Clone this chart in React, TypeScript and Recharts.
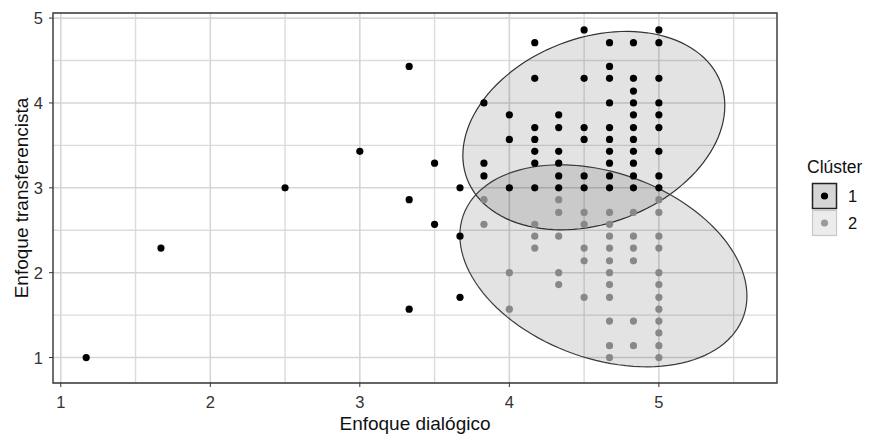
import React from "react";
import { CartesianGrid, ReferenceArea, Scatter, ScatterChart, XAxis, YAxis } from "recharts";

const FONT = '"Liberation Sans", Arial, Helvetica, sans-serif';

// Cluster 1 (black points): x = Enfoque dialógico, y = Enfoque transferencista
const clusterOne = [
  { x: 1.17, y: 1.0 }, { x: 1.67, y: 2.29 }, { x: 2.5, y: 3.0 }, { x: 3.0, y: 3.43 },
  { x: 3.33, y: 4.43 }, { x: 3.33, y: 2.86 }, { x: 3.33, y: 1.57 },
  { x: 3.5, y: 3.29 }, { x: 3.5, y: 2.57 },
  { x: 3.67, y: 3.0 }, { x: 3.67, y: 2.43 }, { x: 3.67, y: 1.71 },
  { x: 3.83, y: 4.0 }, { x: 3.83, y: 3.29 }, { x: 3.83, y: 3.14 },
  { x: 4.0, y: 3.86 }, { x: 4.0, y: 3.57 }, { x: 4.0, y: 3.0 },
  { x: 4.17, y: 4.71 }, { x: 4.17, y: 4.29 }, { x: 4.17, y: 3.71 }, { x: 4.17, y: 3.57 },
  { x: 4.17, y: 3.43 }, { x: 4.17, y: 3.29 }, { x: 4.17, y: 3.0 },
  { x: 4.33, y: 3.86 }, { x: 4.33, y: 3.71 }, { x: 4.33, y: 3.43 }, { x: 4.33, y: 3.29 },
  { x: 4.33, y: 3.14 }, { x: 4.33, y: 3.0 },
  { x: 4.5, y: 4.86 }, { x: 4.5, y: 4.29 }, { x: 4.5, y: 3.71 }, { x: 4.5, y: 3.57 },
  { x: 4.5, y: 3.14 }, { x: 4.5, y: 3.0 },
  { x: 4.67, y: 4.71 }, { x: 4.67, y: 4.43 }, { x: 4.67, y: 4.29 }, { x: 4.67, y: 4.0 },
  { x: 4.67, y: 3.71 }, { x: 4.67, y: 3.57 }, { x: 4.67, y: 3.43 }, { x: 4.67, y: 3.29 },
  { x: 4.67, y: 3.14 }, { x: 4.67, y: 3.0 },
  { x: 4.83, y: 4.71 }, { x: 4.83, y: 4.29 }, { x: 4.83, y: 4.14 }, { x: 4.83, y: 4.0 },
  { x: 4.83, y: 3.86 }, { x: 4.83, y: 3.71 }, { x: 4.83, y: 3.57 }, { x: 4.83, y: 3.43 },
  { x: 4.83, y: 3.29 }, { x: 4.83, y: 3.14 }, { x: 4.83, y: 3.0 },
  { x: 5.0, y: 4.86 }, { x: 5.0, y: 4.71 }, { x: 5.0, y: 4.29 }, { x: 5.0, y: 4.0 },
  { x: 5.0, y: 3.86 }, { x: 5.0, y: 3.71 }, { x: 5.0, y: 3.43 }, { x: 5.0, y: 3.14 },
  { x: 5.0, y: 3.0 },
];

// Cluster 2 (grey points)
const clusterTwo = [
  { x: 3.83, y: 2.86 }, { x: 3.83, y: 2.57 },
  { x: 4.0, y: 2.0 }, { x: 4.0, y: 1.57 },
  { x: 4.17, y: 2.57 }, { x: 4.17, y: 2.43 }, { x: 4.17, y: 2.29 },
  { x: 4.33, y: 2.86 }, { x: 4.33, y: 2.71 }, { x: 4.33, y: 2.43 }, { x: 4.33, y: 2.0 },
  { x: 4.33, y: 1.86 },
  { x: 4.5, y: 2.71 }, { x: 4.5, y: 2.57 }, { x: 4.5, y: 2.29 }, { x: 4.5, y: 2.14 },
  { x: 4.5, y: 1.71 },
  { x: 4.67, y: 2.71 }, { x: 4.67, y: 2.57 }, { x: 4.67, y: 2.43 }, { x: 4.67, y: 2.29 },
  { x: 4.67, y: 2.14 }, { x: 4.67, y: 2.0 }, { x: 4.67, y: 1.86 }, { x: 4.67, y: 1.71 },
  { x: 4.67, y: 1.43 }, { x: 4.67, y: 1.14 }, { x: 4.67, y: 1.0 },
  { x: 4.83, y: 2.71 }, { x: 4.83, y: 2.43 }, { x: 4.83, y: 2.29 }, { x: 4.83, y: 2.14 },
  { x: 4.83, y: 1.43 }, { x: 4.83, y: 1.14 },
  { x: 5.0, y: 2.86 }, { x: 5.0, y: 2.71 }, { x: 5.0, y: 2.43 }, { x: 5.0, y: 2.29 },
  { x: 5.0, y: 2.0 }, { x: 5.0, y: 1.86 }, { x: 5.0, y: 1.71 }, { x: 5.0, y: 1.57 },
  { x: 5.0, y: 1.43 }, { x: 5.0, y: 1.29 }, { x: 5.0, y: 1.14 }, { x: 5.0, y: 1.0 },
];

const xTicks = [1, 2, 3, 4, 5];
const yTicks = [1, 2, 3, 4, 5];
const xMinor = [1.5, 2.5, 3.5, 4.5, 5.5];
const yMinor = [1.5, 2.5, 3.5, 4.5];
const xDomain: [number, number] = [0.948, 5.79];
const yDomain: [number, number] = [0.7, 5.06];

// stat_ellipse outlines (centre, half extents, correlation)
const ellipseOne = { cx: 4.565, cy: 3.674, rx: 0.876, ry: 1.169, corr: 0.25 };
const ellipseTwo = { cx: 4.629, cy: 2.081, rx: 0.96, ry: 1.19, corr: -0.3 };

function ellipsePoints(e: typeof ellipseOne) {
  const delta = Math.acos(e.corr);
  const pts: { x: number; y: number }[] = [];
  for (let i = 0; i <= 120; i++) {
    const t = (i / 120) * Math.PI * 2;
    pts.push({ x: e.cx + e.rx * Math.cos(t), y: e.cy + e.ry * Math.cos(t - delta) });
  }
  return pts;
}

// receives pixel points from Scatter's line renderer and draws a closed, shaded polygon
function EllipseShape(props: any) {
  const { points, shade, edge } = props;
  if (!points || !points.length) return null;
  const d = points.map((p: any, i: number) => `${i ? "L" : "M"}${p.x},${p.y}`).join(" ") + " Z";
  return <path d={d} fill={shade} fillOpacity={0.11} stroke={edge} strokeWidth={1.2} />;
}

const hidden = () => <g />;
const dot = (color: string) => (p: any) => <circle cx={p.cx} cy={p.cy} r={3.6} fill={color} />;

const xTick = ({ x, y, payload }: any) => (
  <text x={x} y={y + 18} textAnchor="middle" fontSize={16.5} fill="#333" fontFamily={FONT}>
    {payload.value}
  </text>
);

const yTick = ({ x, y, payload }: any) => (
  <text x={x} y={y + 6} textAnchor="end" fontSize={16.5} fill="#333" fontFamily={FONT}>
    {payload.value}
  </text>
);

function Legend() {
  return (
    <svg width={80} height={100} style={{ position: "absolute", left: 803, top: 148 }}>
      <text x={4} y={25} fontSize={17.5} fill="#111" fontFamily={FONT}>Clúster</text>
      <rect x={9.5} y={35.5} width={24} height={25} fill="#d6d6d6" stroke="#222" strokeWidth={1.5} />
      <circle cx={21.5} cy={48} r={3.6} fill="#000" />
      <text x={45} y={54} fontSize={16.5} fill="#111" fontFamily={FONT}>1</text>
      <rect x={9.5} y={62.5} width={24} height={25} fill="#ececec" stroke="#c8c8c8" strokeWidth={1.2} />
      <circle cx={21.5} cy={75} r={3.6} fill="#9a9a9a" />
      <text x={45} y={81} fontSize={16.5} fill="#111" fontFamily={FONT}>2</text>
    </svg>
  );
}

export default function App() {
  return (
    <div style={{ position: "relative", width: 886, height: 435, overflow: "hidden", fontFamily: FONT }}>
      <style>{"body { margin: 0; }"}</style>
      <ScatterChart width={886} height={435} margin={{ top: 13, right: 109, bottom: 0, left: 0 }}>
        <CartesianGrid horizontalValues={yMinor} verticalValues={xMinor} stroke="#dcdcdc" strokeWidth={1.4} />
        <CartesianGrid horizontalValues={yTicks} verticalValues={xTicks} stroke="#d6d6d6" strokeWidth={1.6} />
        <XAxis
          type="number"
          dataKey="x"
          domain={xDomain}
          ticks={xTicks}
          allowDataOverflow
          height={52}
          tickSize={4}
          tickMargin={3}
          axisLine={false}
          tickLine={{ stroke: "#333" }}
          tick={xTick}
          label={{
            content: ({ viewBox }: any) => (
              <text x={viewBox.x + viewBox.width / 2} y={430} textAnchor="middle" fontSize={19} fill="#111" fontFamily={FONT}>
                Enfoque dialógico
              </text>
            ),
          }}
        />
        <YAxis
          type="number"
          dataKey="y"
          domain={yDomain}
          ticks={yTicks}
          allowDataOverflow
          width={53}
          tickSize={4}
          tickMargin={6}
          axisLine={false}
          tickLine={{ stroke: "#333" }}
          tick={yTick}
          label={{
            content: ({ viewBox }: any) => (
              <text
                transform={`translate(27.5, ${viewBox.y + viewBox.height / 2}) rotate(-90)`}
                textAnchor="middle"
                fontSize={19}
                fill="#111"
                fontFamily={FONT}
              >
                Enfoque transferencista
              </text>
            ),
          }}
        />
        <Scatter
          data={ellipsePoints(ellipseOne)}
          line={<EllipseShape shade="#000" edge="#333" />}
          lineType="joint"
          shape={hidden}
          isAnimationActive={false}
        />
        <Scatter
          data={ellipsePoints(ellipseTwo)}
          line={<EllipseShape shade="#000" edge="#3a3a3a" />}
          lineType="joint"
          shape={hidden}
          isAnimationActive={false}
        />
        <Scatter data={clusterTwo} shape={dot("#888888")} isAnimationActive={false} />
        <Scatter data={clusterOne} shape={dot("#000000")} isAnimationActive={false} />
        <ReferenceArea
          x1={xDomain[0]}
          x2={xDomain[1]}
          y1={yDomain[0]}
          y2={yDomain[1]}
          fill="none"
          stroke="#333"
          strokeWidth={1.4}
          ifOverflow="visible"
        />
      </ScatterChart>
      <Legend />
    </div>
  );
}
